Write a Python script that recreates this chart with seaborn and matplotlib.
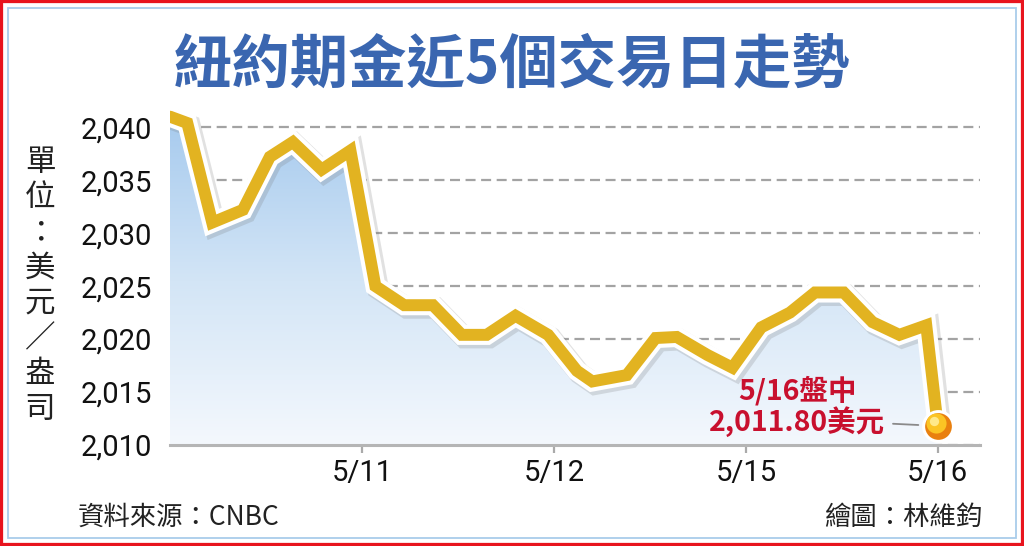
import numpy as np
import matplotlib
matplotlib.use("Agg")
import matplotlib.pyplot as plt
import matplotlib.patheffects as pe
import matplotlib.transforms as mtransforms
from matplotlib.colors import LinearSegmentedColormap
from matplotlib.patches import Rectangle
import seaborn as sns

# position on the trading-day axis (0 = start of 5/10 session, 1 = 5/11 ...) and gold price (USD/oz)
day_pos = [0.00, 0.09, 0.22, 0.38, 0.52, 0.64, 0.79, 0.94, 1.07, 1.22,
           1.37, 1.52, 1.65, 1.80, 1.97, 2.12, 2.20, 2.38, 2.53, 2.64,
           2.80, 2.93, 3.08, 3.23, 3.36, 3.51, 3.66, 3.80, 3.94, 4.00]
price = [2041.0, 2040.4, 2031.0, 2032.2, 2037.2, 2038.6, 2036.0, 2037.8, 2025.0, 2023.2,
         2023.2, 2020.4, 2020.4, 2022.2, 2020.4, 2017.0, 2016.0, 2016.6, 2020.1, 2020.2,
         2018.5, 2017.3, 2021.1, 2022.5, 2024.4, 2024.4, 2021.6, 2020.4, 2021.3, 2011.8]
tick_pos = [1, 2, 3, 4]
tick_labels = ["5/11", "5/12", "5/15", "5/16"]
y_ticks = [2010, 2015, 2020, 2025, 2030, 2035, 2040]

title = "紐約期金近5個交易日走勢"
unit_label = "單位：美元／盎司"
source = "資料來源：CNBC"
credit = "繪圖：林維鈞"
note = "5/16盤中\n2,011.80美元"

sns.set_theme(style="white")
plt.rcParams["font.family"] = ["Noto Sans CJK TC", "DejaVu Sans"]

fig = plt.figure(figsize=(10.24, 5.46), dpi=100)
fig.patch.set_facecolor("white")
ax = fig.add_axes([170 / 1024, 101 / 546, 810 / 1024, 340 / 546])
ax.set_facecolor("none")

y_bottom, y_top = 2010, 2042.1

# gradient area under the line
poly = ax.fill_between(day_pos, price, y_bottom, color="none", lw=0)
grad_cmap = LinearSegmentedColormap.from_list("g", ["#f4f8fd", "#d3e5f6", "#a6caee"])
grad = np.linspace(0, 1, 256).reshape(-1, 1)
im = ax.imshow(grad, extent=[day_pos[0], day_pos[-1], y_bottom, max(price)],
               origin="lower", aspect="auto", cmap=grad_cmap, zorder=1)
im.set_clip_path(poly.get_paths()[0], transform=ax.transData)

# the price line
sns.lineplot(x=day_pos, y=price, ax=ax, color="#e2b321", linewidth=8.6, zorder=4)
line = ax.lines[-1]
line.set_solid_capstyle("round")
line.set_solid_joinstyle("miter")
line.set_path_effects([
    pe.SimpleLineShadow(offset=(2, -2), shadow_color="#777777", alpha=0.22, linewidth=15.5),
    pe.Stroke(linewidth=14.5, foreground="white"),
    pe.Normal(),
])

# end ball
ax.scatter([day_pos[-1]], [price[-1]], s=460, color="#e9800f", edgecolor="white",
           linewidth=2.2, zorder=6)
shift = mtransforms.ScaledTranslation(-1.5 / 72, 2 / 72, fig.dpi_scale_trans)
ax.scatter([day_pos[-1]], [price[-1]], s=210, color="#fbc424", lw=0, zorder=7,
           transform=ax.transData + shift)
shift2 = mtransforms.ScaledTranslation(-2.5 / 72, 3.5 / 72, fig.dpi_scale_trans)
ax.scatter([day_pos[-1]], [price[-1]], s=45, color="#ffe98a", lw=0, zorder=8,
           transform=ax.transData + shift2)

ax.annotate(note, xy=(day_pos[-1], price[-1]), xytext=(-101, 14), textcoords="offset points",
            ha="center", va="center", fontsize=20.5, fontweight="bold", color="#c8102e",
            linespacing=1.0, zorder=9,
            arrowprops=dict(arrowstyle="-", color="#8a8a8a", lw=1.3, relpos=(1.0, 0.22),
                            shrinkA=3, shrinkB=14))

# axes styling
ax.set_xlim(0, 4.22)
ax.set_ylim(y_bottom, y_top)
ax.set_yticks(y_ticks)
ax.set_yticklabels([f"{v:,}" for v in y_ticks], fontsize=21, family="Roboto", color="#111111")
ax.set_xticks(tick_pos)
ax.set_xticklabels(tick_labels, fontsize=21, family="Roboto", color="#111111")
ax.tick_params(axis="y", length=0, pad=13)
ax.tick_params(axis="x", direction="out", length=6, width=1.6, color="#aaaaaa", pad=4, bottom=True)
ax.grid(axis="y", linestyle=(0, (4.5, 2.5)), color="#a3a3a3", linewidth=1.6, zorder=0)
ax.grid(axis="x", visible=False)
for side in ["top", "right", "left"]:
    ax.spines[side].set_visible(False)
ax.spines["bottom"].set_color("#b5b5b5")
ax.spines["bottom"].set_linewidth(2.2)
ax.spines["bottom"].set_zorder(2)
ax.set_xlabel("")
ax.set_ylabel("")

# texts
fig.text(0.5, 1 - 65 / 546, title, ha="center", va="center", fontsize=42,
         fontweight="bold", color="#3a66b0")
n = len(unit_label)
for i, ch in enumerate(unit_label):
    yc = 162 + i * (409 - 162) / (n - 1)
    fig.text(40 / 1024, 1 - yc / 546, ch, ha="center", va="center", fontsize=22, color="#222222")
fig.text(78 / 1024, 1 - 517 / 546, source, ha="left", va="center", fontsize=19, color="#222222")
fig.text(982 / 1024, 1 - 517 / 546, credit, ha="right", va="center", fontsize=19, color="#222222")

# frame
fig.patches.append(Rectangle((0, 0), 1, 1, transform=fig.transFigure, fill=False,
                             edgecolor="#e8141e", linewidth=4.5))
fig.patches.append(Rectangle((8 / 1024, 8 / 546), 1 - 16 / 1024, 1 - 16 / 546,
                             transform=fig.transFigure, fill=False,
                             edgecolor="#a9cdea", linewidth=1.3))

fig.savefig("out.png", dpi=100)
